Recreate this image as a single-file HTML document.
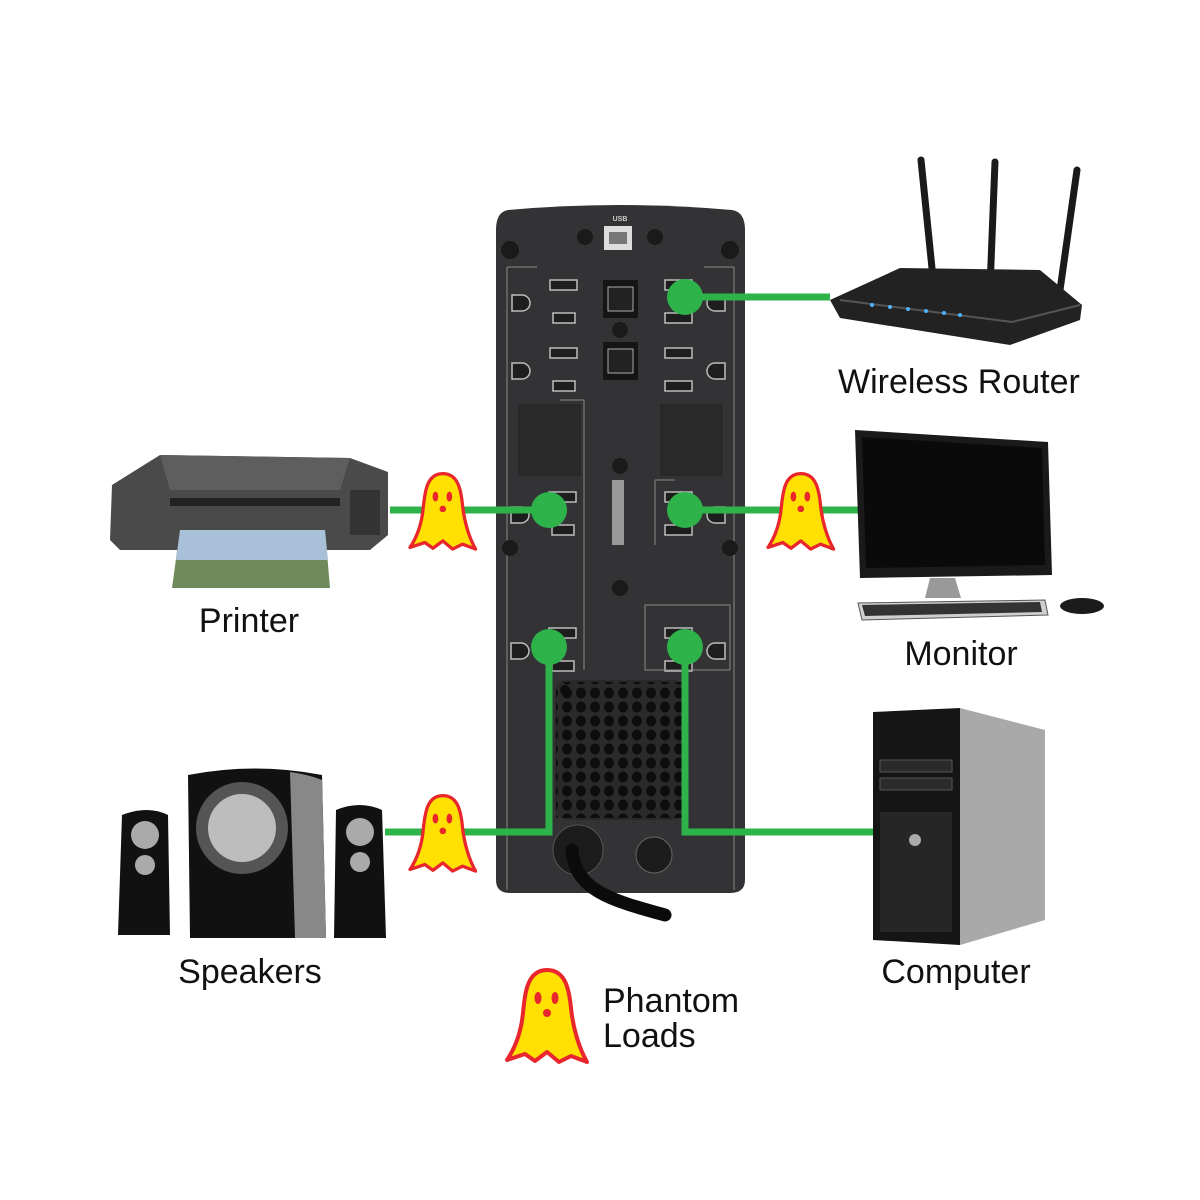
<!DOCTYPE html>
<html><head><meta charset="utf-8"><style>
html,body{margin:0;padding:0;background:#fff;}
svg{display:block;}
text{font-family:"Liberation Sans",sans-serif;}
</style></head><body>
<svg width="1200" height="1200" viewBox="0 0 1200 1200" xmlns="http://www.w3.org/2000/svg">
<defs>
<g id="ghost">
<path d="M40,2 C20,2 18,25 16,45 C14,65 8,80 0,92 L18,86 L28,93 L40,84 L52,94 L64,88 L80,94 C72,80 66,60 64,40 C62,20 58,2 40,2 Z" fill="#ffe000" stroke="#e8262c" stroke-width="4" stroke-linejoin="round"/>
<ellipse cx="31" cy="30" rx="3.5" ry="6" fill="#e8262c"/>
<ellipse cx="48" cy="30" rx="3.5" ry="6" fill="#e8262c"/>
<circle cx="40" cy="45" r="4" fill="#e8262c"/>
</g>
<g id="outletL" fill="#1e1e1e" stroke="#bdbdbd" stroke-width="1.5">
<rect x="0" y="0" width="27" height="10"/>
<rect x="3" y="33" width="22" height="10"/>
<path d="M-38,15 h10 a8,8 0 0 1 0,16 h-10 z"/>
</g>
<g id="outletR" fill="#1e1e1e" stroke="#bdbdbd" stroke-width="1.5">
<rect x="0" y="0" width="27" height="10"/>
<rect x="0" y="33" width="27" height="10"/>
<path d="M60,15 h-10 a8,8 0 0 0 0,16 h10 z"/>
</g>
</defs>

<!-- UPS body -->
<path d="M508,210 Q620,200 732,210 Q745,212 745,230 L745,880 Q745,893 730,893 L510,893 Q496,893 496,880 L496,230 Q496,212 508,210 Z" fill="#333335"/>
<text x="620" y="221" font-size="7" fill="#ccc" text-anchor="middle" font-weight="bold">USB</text>
<rect x="604" y="226" width="28" height="24" fill="#ddd"/><rect x="609" y="232" width="18" height="12" fill="#777"/>
<circle cx="585" cy="237" r="8" fill="#1a1a1a"/><circle cx="655" cy="237" r="8" fill="#1a1a1a"/>
<circle cx="510" cy="250" r="9" fill="#1a1a1a"/><circle cx="730" cy="250" r="9" fill="#1a1a1a"/>
<path d="M507,267 h30 M507,267 V890 M734,267 h-30 M734,267 V890" stroke="#888" stroke-width="1" fill="none"/>
<use href="#outletL" x="550" y="280"/>
<use href="#outletL" x="550" y="348"/>
<use href="#outletR" x="665" y="280"/>
<use href="#outletR" x="665" y="348"/>
<rect x="603" y="280" width="35" height="38" fill="#151515"/><rect x="608" y="287" width="25" height="24" fill="#222" stroke="#aaa"/>
<rect x="603" y="342" width="35" height="38" fill="#151515"/><rect x="608" y="349" width="25" height="24" fill="#222" stroke="#aaa"/>
<circle cx="620" cy="330" r="8" fill="#1a1a1a"/>
<circle cx="620" cy="466" r="8" fill="#1a1a1a"/>
<circle cx="620" cy="588" r="8" fill="#1a1a1a"/>
<rect x="519" y="405" width="61" height="70" fill="#2a2a2a" stroke="#222"/>
<rect x="661" y="405" width="61" height="70" fill="#2a2a2a" stroke="#222"/>
<path d="M560,400 h24 V670 M655,480 V545 M655,480 h20" stroke="#888" stroke-width="1" fill="none"/>
<rect x="612" y="480" width="12" height="65" fill="#999"/>
<use href="#outletL" x="549" y="492"/>
<use href="#outletR" x="665" y="492"/>
<use href="#outletL" x="549" y="628"/>
<use href="#outletR" x="665" y="628"/>
<rect x="645" y="605" width="85" height="65" fill="none" stroke="#888"/>
<circle cx="510" cy="548" r="8" fill="#1a1a1a"/><circle cx="730" cy="548" r="8" fill="#1a1a1a"/>
<!-- vent -->
<g fill="#111">
<rect x="555" y="680" width="130" height="140" rx="12" fill="#2a2a2a"/>
</g>
<g fill="#0e0e0e">
<circle cx="565" cy="690" r="5"/>
</g>
<path d="M558,685 h124 v130 h-124 z" fill="none"/>
<pattern id="holes" width="14" height="14" patternUnits="userSpaceOnUse"><ellipse cx="7" cy="7" rx="5" ry="5.5" fill="#0d0d0d"/></pattern>
<rect x="556" y="682" width="128" height="136" fill="url(#holes)"/>
<circle cx="578" cy="850" r="25" fill="#1c1c1c" stroke="#555"/>
<circle cx="654" cy="855" r="18" fill="#1c1c1c" stroke="#666"/>
<path d="M572,850 C575,890 610,900 665,915" stroke="#0b0b0b" stroke-width="13" fill="none" stroke-linecap="round"/>

<!-- green lines -->
<g stroke="#2db34a" stroke-width="7" fill="none">
<path d="M685,297 H830"/>
<path d="M390,510 H549"/>
<path d="M685,510 H858"/>
<path d="M385,832 H549 V647"/>
<path d="M685,647 V832 H873"/>
</g>
<g fill="#2db34a">
<circle cx="685" cy="297" r="18"/>
<circle cx="549" cy="510" r="18"/>
<circle cx="685" cy="510" r="18"/>
<circle cx="549" cy="647" r="18"/>
<circle cx="685" cy="647" r="18"/>
</g>

<!-- ghosts -->
<use href="#ghost" transform="translate(410,472) scale(0.82)"/>
<use href="#ghost" transform="translate(768,472) scale(0.82)"/>
<use href="#ghost" transform="translate(410,794) scale(0.82)"/>
<use href="#ghost" transform="translate(507,968)"/>

<!-- router -->
<g>
<path d="M921,160 L934,288 M995,162 L990,288 M1077,170 L1060,290" stroke="#1a1a1a" stroke-width="7" stroke-linecap="round"/>
<path d="M830,300 L900,268 L1040,270 L1082,305 L1080,320 L1010,345 L840,318 Z" fill="#222"/>
<path d="M840,300 L1012,322 L1080,305" stroke="#555" stroke-width="2" fill="none"/>
<g fill="#4fb3ff"><circle cx="872" cy="305" r="2"/><circle cx="890" cy="307" r="2"/><circle cx="908" cy="309" r="2"/><circle cx="926" cy="311" r="2"/><circle cx="944" cy="313" r="2"/><circle cx="960" cy="315" r="2"/></g>
</g>
<!-- monitor -->
<g>
<path d="M855,430 L1048,442 L1052,575 L860,578 Z" fill="#1a1a1a"/>
<path d="M862,437 L1042,448 L1045,565 L866,568 Z" fill="#0a0a0a"/>
<path d="M930,578 h25 l6,20 h-36 z" fill="#999"/>
<path d="M858,603 L1045,600 L1048,615 L862,620 Z" fill="#cfcfcf" stroke="#555"/>
<path d="M862,605 L1040,602 L1042,612 L865,616 Z" fill="#333"/>
<ellipse cx="1082" cy="606" rx="22" ry="8" fill="#1a1a1a"/>
</g>
<!-- computer -->
<g>
<path d="M873,712 L960,708 L960,945 L873,940 Z" fill="#151515"/>
<path d="M960,708 L1045,730 L1045,920 L960,945 Z" fill="#a9a9a9"/>
<rect x="880" y="760" width="72" height="12" fill="#2a2a2a" stroke="#555"/>
<rect x="880" y="778" width="72" height="12" fill="#2a2a2a" stroke="#555"/>
<rect x="880" y="812" width="72" height="120" fill="#262626"/>
<circle cx="915" cy="840" r="6" fill="#aaa"/>
</g>
<!-- printer -->
<g>
<path d="M112,485 L160,455 L350,458 L388,472 L388,535 L370,550 L120,550 L110,540 Z" fill="#4a4a4a"/>
<path d="M160,455 L350,458 L340,490 L170,490 Z" fill="#5e5e5e"/>
<rect x="170" y="498" width="170" height="8" fill="#222"/>
<path d="M180,530 L325,530 L330,588 L172,588 Z" fill="#6e8a5a"/>
<path d="M180,530 L325,530 L328,560 L176,560 Z" fill="#a8c0d8"/>
<rect x="350" y="490" width="30" height="45" fill="#333"/>
</g>
<!-- speakers -->
<g>
<path d="M188,775 Q255,762 322,775 L326,938 L190,938 Z" fill="#111"/>
<path d="M290,772 Q310,775 322,780 L326,938 L295,938 Z" fill="#888"/>
<circle cx="242" cy="828" r="46" fill="#555"/>
<circle cx="242" cy="828" r="34" fill="#bdbdbd"/>
<path d="M122,815 Q148,805 168,815 L170,935 L118,935 Z" fill="#111"/>
<circle cx="145" cy="835" r="14" fill="#aaa"/><circle cx="145" cy="865" r="10" fill="#aaa"/>
<path d="M336,810 Q360,800 382,810 L386,938 L334,938 Z" fill="#111"/>
<circle cx="360" cy="832" r="14" fill="#aaa"/><circle cx="360" cy="862" r="10" fill="#aaa"/>
</g>

<!-- labels -->
<g font-size="34" fill="#111">
<text x="838" y="393">Wireless Router</text>
<text x="249" y="632" text-anchor="middle">Printer</text>
<text x="961" y="665" text-anchor="middle">Monitor</text>
<text x="250" y="983" text-anchor="middle">Speakers</text>
<text x="956" y="983" text-anchor="middle">Computer</text>
<text x="603" y="1012">Phantom</text>
<text x="603" y="1047">Loads</text>
</g>
</svg>
</body></html>
